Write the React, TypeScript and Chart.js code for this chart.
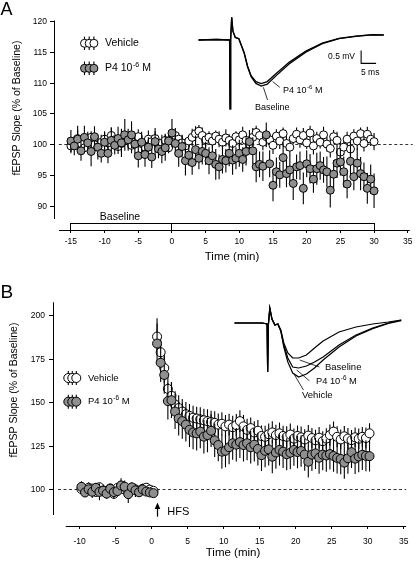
import React, { useEffect, useRef } from "react";
import { Chart, registerables } from "chart.js";
Chart.register(...registerables);

const FONT = '"Liberation Sans", Arial, Helvetica, sans-serif';
const GRAY = "#8f8f8f";

// ---------------- Panel A data ----------------
const ticksAX = [-15, -10, -5, 0, 5, 10, 15, 20, 25, 30, 35];
const ticksAY = [90, 95, 100, 105, 110, 115, 120];
const timeA = Array.from({ length: 91 }, (_, i) => -15 + i * 0.5); // sampling grid (min)
const vehicleA = [
  99.8, 100.5, 101.0, 100.2, 99.5, 100.8, 101.2, 100.0, 99.6, 100.4, 100.9,
  100.3, 101.5, 100.8, 99.7, 100.2, 101.0, 100.6, 99.9, 100.4, 101.3,
  100.2, 99.6, 100.9, 100.5, 101.0, 99.8, 100.3, 100.7, 99.5, 100.8,
  101.5, 100.9, 100.3, 99.8, 100.6, 101.2, 101.8, 102.2, 101.5, 100.8,
  101.2, 100.6, 101.4, 100.9, 100.4, 101.1, 100.7, 100.2, 101.3, 100.8,
  101.6, 100.7, 100.1, 101.2, 102.0, 101.5, 100.4, 101.3, 100.8, 99.9,
  101.4, 100.6, 101.8, 100.2, 99.6, 101.0, 101.7, 100.8, 101.5, 100.3,
  101.9, 99.8, 101.0, 100.4, 101.6, 100.1, 99.4, 101.3, 100.7, 98.8,
  99.6, 100.9, 99.3, 101.4, 100.6, 101.8, 100.2, 101.7, 100.9, 100.5,
];
const vehicleSemA = [
  1.2, 0.9, 1.4, 1.1, 0.8, 1.3, 1.0, 1.5, 0.9, 1.2, 1.1,
  1.0, 1.3, 0.9, 1.2, 1.4, 0.8, 1.1, 1.3, 1.0, 1.2,
  0.9, 1.1, 1.4, 1.0, 1.2, 0.8, 1.3, 1.1, 0.9, 1.5,
  1.2, 1.0, 1.3, 1.1, 0.9, 1.4, 1.2, 1.0, 1.3, 1.1,
  1.0, 1.2, 0.9, 1.3, 1.1, 1.4, 1.0, 1.2, 0.9, 1.1,
  1.3, 1.0, 1.2, 1.5, 1.1, 0.9, 1.3, 1.2, 1.0, 1.4,
  1.1, 1.3, 1.0, 1.2, 1.4, 0.9, 1.1, 1.3, 1.2, 1.0,
  1.2, 1.4, 1.1, 1.0, 1.3, 1.2, 1.5, 1.1, 1.4, 1.6,
  1.3, 1.2, 1.5, 1.1, 1.4, 1.0, 1.3, 1.2, 1.1, 1.4,
];
const p4A = [
  100.6, 99.8, 100.9, 99.0, 101.2, 100.3, 98.9, 101.3, 99.6, 98.6, 100.4,
  98.6, 100.7, 99.9, 101.0, 100.3, 101.6, 100.8, 101.6, 100.1, 98.2,
  100.4, 98.4, 99.6, 98.0, 100.5, 99.3, 98.9, 99.5, 100.6, 101.9,
  100.2, 98.6, 99.7, 97.4, 98.3, 97.1, 99.2, 97.8, 98.9, 98.6,
  97.4, 98.2, 96.8, 96.4, 97.6, 97.4, 98.6, 97.5, 97.8, 98.6,
  97.6, 98.9, 100.5, 99.0, 96.4, 96.8, 96.5, 101.6, 96.9, 93.4,
  95.6, 95.1, 97.9, 95.3, 95.9, 93.7, 96.4, 96.6, 92.9, 96.9,
  96.1, 94.4, 96.1, 96.6, 95.9, 95.6, 92.6, 95.2, 97.0, 97.2,
  95.6, 93.6, 97.3, 94.8, 97.0, 95.3, 94.8, 92.9, 94.4, 92.5,
];
const p4SemA = [
  1.8, 1.5, 2.2, 1.6, 1.9, 1.4, 2.4, 1.7, 2.0, 1.5, 1.8,
  1.6, 2.1, 1.5, 1.9, 2.3, 2.6, 1.8, 2.2, 1.7, 1.9,
  1.7, 2.0, 1.6, 1.8, 2.2, 1.5, 1.9, 2.1, 1.7, 2.3,
  1.9, 2.2, 1.8, 2.4, 1.7, 2.0, 2.3, 1.8, 2.1, 1.9,
  2.2, 1.8, 2.5, 2.0, 2.3, 1.9, 2.1, 2.4, 1.8, 2.2,
  2.0, 2.3, 1.9, 2.2, 2.5, 2.1, 2.4, 2.0, 2.2, 2.6,
  2.3, 2.1, 2.5, 2.2, 2.4, 2.7, 2.0, 2.3, 2.6, 2.2,
  2.4, 2.2, 2.6, 2.3, 2.1, 2.5, 2.8, 2.3, 2.4, 2.2,
  2.5, 2.3, 2.6, 2.2, 2.4, 2.7, 2.3, 2.5, 2.4, 2.8,
];
const baselineBarA = [-15, 0, 30]; // start, divider, end (min)

// inset traces, panel A (ms, mV)
const traceTimeA = [0, 6, 10.4, 10.55, 10.75, 11.1, 11.5, 12.3, 13.5, 15.3, 16.4, 17.6, 19.2, 21, 23, 25.9, 30.3, 35.9, 41.4, 47, 52.6, 58.1, 62];
const traceBaselineA = [0, 0.02, 0, -2.65, 0, 0.87, 0.35, 0.1, 0.05, -0.51, -1.03, -1.41, -1.67, -1.77, -1.7, -1.38, -0.92, -0.47, -0.14, 0.05, 0.14, 0.2, 0.19];
const traceP4A = [0, 0.02, 0, -2.65, 0, 0.87, 0.35, 0.1, 0.05, -0.5, -1.0, -1.37, -1.6, -1.68, -1.6, -1.3, -0.86, -0.43, -0.12, 0.06, 0.15, 0.21, 0.2];
const leaderP4AX = [24.8, 27.2];
const leaderP4AY = [-1.6, -1.82];
const leaderBaseAX = [21.7, 23.1];
const leaderBaseAY = [-1.82, -2.31];
const scaleBarAX = [54.4, 54.4, 59.4]; // 5 ms
const scaleBarAY = [-0.4, -0.9, -0.9]; // 0.5 mV

// ---------------- Panel B data ----------------
const ticksBX = [-10, -5, 0, 5, 10, 15, 20, 25, 30, 35];
const ticksBY = [100, 125, 150, 175, 200];
const timeBPre = Array.from({ length: 21 }, (_, i) => -9.75 + i * 0.5);
const timeBPost = Array.from({ length: 60 }, (_, i) => 0.75 + i * 0.5);
const vehicleBPre = [100.5, 99.2, 101.3, 100.8, 98.9, 101.6, 99.7, 98.4, 100.9, 97.8, 101.2, 102.3, 100.2, 99.1, 101.0, 100.4, 99.6, 100.7, 101.3, 100.2, 99.5];
const vehicleSemBPre = [2.5, 2.0, 3.1, 2.4, 2.8, 2.2, 3.4, 2.6, 2.1, 2.9, 2.4, 3.0, 2.2, 2.7, 2.5, 2.1, 2.4, 2.0, 2.6, 2.3, 2.1];
const p4BPre = [101.8, 98.6, 100.4, 99.0, 101.2, 98.9, 99.6, 97.9, 100.7, 98.8, 99.4, 102.6, 101.9, 97.6, 101.5, 99.8, 98.7, 100.3, 99.1, 98.6, 98.2];
const p4SemBPre = [3.2, 2.7, 2.4, 3.6, 2.9, 4.8, 2.5, 3.1, 2.8, 3.4, 2.6, 4.2, 3.5, 5.0, 3.0, 3.8, 2.7, 3.3, 2.5, 2.4, 2.2];
const vehicleBPost = [
  188, 179, 170, 158, 154, 149, 147, 145, 143.5, 142.5,
  141.5, 141, 140.5, 140, 139.5, 139, 138.5, 137.5, 138, 136.5,
  137.5, 136, 137.2, 139.5, 136.5, 134.5, 135.5, 133, 134, 131,
  130.5, 132, 133, 131.5, 132.5, 131, 130.5, 131.8, 129.5, 131,
  130.2, 129, 131.2, 129.8, 128.5, 130, 128, 129.5, 131.5, 133.5,
  130.5, 129, 130.8, 129.5, 128.6, 130.2, 129.4, 130.5, 129.8, 132.5,
];
const vehicleSemBPost = [
  10.6, 9.5, 8.8, 8.2, 7.9, 7.6, 7.4, 7.2, 7.0, 6.9,
  6.8, 6.7, 6.9, 6.6, 6.8, 6.5, 6.7, 6.4, 6.6, 6.5,
  6.3, 6.6, 6.4, 6.2, 6.5, 6.3, 6.1, 6.4, 6.2, 6.0,
  6.3, 6.1, 6.4, 6.0, 6.2, 5.9, 6.1, 6.3, 5.8, 6.0,
  6.2, 5.9, 6.1, 5.8, 6.0, 6.2, 5.7, 5.9, 6.1, 5.8,
  6.0, 5.7, 5.9, 6.1, 5.8, 5.6, 5.9, 5.7, 6.0, 5.8,
];
const p4BPost = [
  184, 173, 166, 151, 151.5, 145, 141, 139.5, 137.5, 134.5,
  133, 132.5, 133.5, 130.6, 131.5, 134, 128.5, 125.8, 122, 122.5,
  124.5, 126.8, 126, 127.5, 125.8, 126.8, 124.5, 126, 123.5, 120,
  122.5, 123.3, 119.1, 121.5, 123, 122, 120.5, 121.4, 123, 121.8,
  122.4, 120.3, 116.2, 120.3, 121, 118.5, 120.3, 119.8, 120.6, 119.5,
  118.4, 117.8, 115.7, 118.2, 121.7, 118, 119.2, 120.2, 119.6, 119.4,
];
const p4SemBPost = [
  11.5, 11.0, 10.8, 10.5, 10.2, 10.0, 9.8, 10.1, 9.7, 9.9,
  9.6, 9.8, 9.5, 9.7, 9.9, 9.4, 9.6, 9.3, 9.8, 9.5,
  9.7, 9.4, 9.6, 9.2, 9.5, 9.7, 9.3, 9.6, 9.4, 9.1,
  9.4, 9.2, 9.5, 9.3, 9.0, 9.4, 9.2, 9.5, 9.1, 9.3,
  9.0, 9.3, 9.1, 9.4, 8.9, 9.2, 9.0, 9.3, 8.8, 9.1,
  9.0, 8.7, 9.2, 8.9, 9.1, 8.8, 9.0, 8.7, 8.9, 8.8,
];
const hfsTime = 0.8;

// inset traces, panel B (ms, mV)
const traceTimeB = [0, 10.3, 12.1, 12.3, 12.6, 13.1, 13.9, 15.0, 16.1, 17.2, 18.3, 19.8, 21.6, 23.8, 26.7, 29.7, 32.9, 38.8, 45.1, 51.3, 57.1, 61.9];
const traceBaselineB = [0, 0, -0.05, -2.45, -0.05, 0.75, 0.2, -0.1, -0.05, -0.35, -1.0, -1.5, -1.75, -1.75, -1.6, -1.25, -0.9, -0.45, -0.2, -0.05, 0.05, 0.15];
const traceP4B = [0, 0, -0.05, -2.45, -0.05, 0.75, 0.2, -0.1, -0.05, -0.4, -1.1, -1.75, -2.2, -2.25, -2.15, -1.95, -1.7, -1.1, -0.6, -0.25, 0, 0.15];
const traceVehicleB = [0, 0, -0.05, -2.45, -0.05, 0.75, 0.2, -0.1, -0.05, -0.42, -1.2, -1.95, -2.5, -2.7, -2.55, -2.25, -1.85, -1.2, -0.65, -0.28, -0.02, 0.12];
const leaderBaseBX = [24.2, 31.5];
const leaderBaseBY = [-1.85, -2.2];
const leaderP4BX = [23.1, 27.8];
const leaderP4BY = [-2.35, -2.89];
const leaderVehBX = [22.3, 25.6];
const leaderVehBY = [-2.6, -3.35];

// ---------------- helpers ----------------
const pts = (xs: number[], ys: number[]) => xs.map((x, i) => ({ x, y: ys[i] }));

function scatterDs(label: string, xs: number[], ys: number[], sem: number[], fill: string, r: number, order: number) {
  return {
    type: "line",
    label,
    data: pts(xs, ys),
    sem,
    showLine: false,
    pointRadius: r,
    pointHoverRadius: r,
    pointBackgroundColor: fill,
    pointBorderColor: "#000",
    pointBorderWidth: 1,
    borderColor: "#000",
    backgroundColor: fill,
    order,
    xAxisID: "x",
    yAxisID: "y",
  };
}

function traceDs(xs: number[], ys: number[], width: number) {
  return {
    type: "line",
    data: pts(xs, ys),
    borderColor: "#000",
    borderWidth: width,
    pointRadius: 0,
    pointHoverRadius: 0,
    tension: 0,
    fill: false,
    order: 5,
    xAxisID: "ix",
    yAxisID: "iy",
  };
}

function mainX(min: number, max: number, ticks: number[], height: number, pad: number) {
  return {
    type: "linear",
    position: "bottom",
    min,
    max,
    afterBuildTicks: (s: any) => {
      s.ticks = ticks.map((v) => ({ value: v }));
    },
    afterFit: (s: any) => {
      s.height = height;
    },
    grid: { display: true, drawOnChartArea: false, drawTicks: true, tickLength: 3, color: "#000", lineWidth: 1 },
    border: { display: false },
    ticks: {
      font: { family: FONT, size: 8.5 },
      color: "#000",
      padding: pad,
      maxRotation: 0,
      autoSkip: false,
      callback: (v: any) => String(v),
    },
  };
}

function mainY(min: number, max: number, ticks: number[], width: number, pad: number) {
  return {
    type: "linear",
    position: "left",
    min,
    max,
    afterBuildTicks: (s: any) => {
      s.ticks = ticks.map((v) => ({ value: v }));
    },
    afterFit: (s: any) => {
      s.width = width;
    },
    grid: { display: true, drawOnChartArea: false, drawTicks: true, tickLength: 4, color: "#000", lineWidth: 1 },
    border: { display: false },
    ticks: {
      font: { family: FONT, size: 8.5 },
      color: "#000",
      padding: pad,
      autoSkip: false,
      callback: (v: any) => String(v),
    },
  };
}

function drawText(ctx: CanvasRenderingContext2D, s: string, x: number, y: number, size: number, align: CanvasTextAlign = "left", baseline: CanvasTextBaseline = "middle") {
  ctx.font = `${size}px ${FONT}`;
  ctx.textAlign = align;
  ctx.textBaseline = baseline;
  ctx.fillStyle = "#000";
  ctx.fillText(s, x, y);
}

function drawP4Label(ctx: CanvasRenderingContext2D, x: number, y: number, size: number) {
  ctx.textAlign = "left";
  ctx.textBaseline = "middle";
  ctx.fillStyle = "#000";
  ctx.font = `${size}px ${FONT}`;
  const a = "P4 10";
  ctx.fillText(a, x, y);
  let w = ctx.measureText(a).width + 0.5;
  const ss = size * 0.68;
  ctx.font = `${ss}px ${FONT}`;
  ctx.fillText("-6", x + w, y - size * 0.33);
  w += ctx.measureText("-6").width;
  ctx.font = `${size}px ${FONT}`;
  ctx.fillText(" M", x + w, y);
}

function drawVTitle(ctx: CanvasRenderingContext2D, s: string, x: number, y: number, size: number) {
  ctx.save();
  ctx.translate(x, y);
  ctx.rotate(-Math.PI / 2);
  drawText(ctx, s, 0, 0, size, "center", "middle");
  ctx.restore();
}

function drawLegendSymbol(ctx: CanvasRenderingContext2D, cx: number, cy: number, r: number, step: number, fill: string, half: number) {
  for (let k = 0; k < 3; k++) {
    const x = cx + k * step;
    ctx.beginPath();
    ctx.moveTo(x, cy - half);
    ctx.lineTo(x, cy + half);
    ctx.strokeStyle = "#000";
    ctx.lineWidth = 1.1;
    ctx.stroke();
    ctx.beginPath();
    ctx.arc(x, cy, r, 0, Math.PI * 2);
    ctx.fillStyle = fill;
    ctx.fill();
    ctx.lineWidth = 1;
    ctx.stroke();
  }
}

const align = (p: number) => Math.round(p - 0.5) + 0.5;

const errorBars = {
  id: "errorBars",
  beforeDatasetDraw(chart: any, args: any) {
    const ds = chart.data.datasets[args.index];
    if (!ds.sem) return;
    const meta = args.meta;
    const yScale = chart.scales[meta.yAxisID];
    const ctx = chart.ctx;
    ctx.save();
    ctx.strokeStyle = "#000";
    ctx.lineWidth = 1.1;
    ctx.beginPath();
    meta.data.forEach((el: any, i: number) => {
      const v = ds.data[i].y;
      const s = ds.sem[i];
      ctx.moveTo(el.x, yScale.getPixelForValue(v - s));
      ctx.lineTo(el.x, yScale.getPixelForValue(v + s));
    });
    ctx.stroke();
    ctx.restore();
  },
};

const baseOptions = {
  animation: false,
  responsive: false,
  devicePixelRatio: 1,
  events: [],
  plugins: { legend: { display: false }, tooltip: { enabled: false } },
};

// ---------------- Panel A ----------------
function configA(): any {
  const decorA = {
    id: "decorA",
    beforeDatasetsDraw(chart: any) {
      const { ctx, chartArea: ca } = chart;
      const x = chart.scales.x;
      const y = chart.scales.y;
      ctx.save();
      ctx.strokeStyle = "#000";
      ctx.lineWidth = 1;
      const axX = align(ca.left);
      const axY = align(ca.bottom);
      ctx.beginPath();
      ctx.moveTo(axX, y.getPixelForValue(120.2));
      ctx.lineTo(axX, y.getPixelForValue(87.92));
      ctx.moveTo(x.getPixelForValue(-16.77), axY);
      ctx.lineTo(ca.right, axY);
      ctx.stroke();
      // dashed 100% line
      ctx.setLineDash([3, 2.5]);
      ctx.lineWidth = 0.8;
      const y100 = align(y.getPixelForValue(100));
      ctx.beginPath();
      ctx.moveTo(x.getPixelForValue(-16.8), y100);
      ctx.lineTo(ca.right + 3, y100);
      ctx.stroke();
      ctx.setLineDash([]);
      // baseline bar
      ctx.lineWidth = 1;
      const top = align(y.getPixelForValue(87.2));
      const xl = align(x.getPixelForValue(baselineBarA[0]));
      const xm = align(x.getPixelForValue(baselineBarA[1]));
      const xr = align(x.getPixelForValue(baselineBarA[2]));
      ctx.strokeRect(xl, top, xr - xl, axY - top);
      ctx.beginPath();
      ctx.moveTo(xm, top);
      ctx.lineTo(xm, axY);
      ctx.stroke();
      ctx.restore();
    },
    afterDatasetsDraw(chart: any) {
      const ctx = chart.ctx;
      ctx.save();
      drawText(ctx, "A", 0.5, 15, 18, "left", "alphabetic");
      drawVTitle(ctx, "fEPSP Slope (% of Baseline)", 17, 108, 10.5);
      drawText(ctx, "Time (min)", 232, 257, 11.5, "center");
      drawText(ctx, "Baseline", 120, 216.7, 10.5, "center");
      drawLegendSymbol(ctx, 84.5, 43.3, 4, 4.7, "#fff", 6.7);
      drawText(ctx, "Vehicle", 105, 43.3, 10.5);
      drawLegendSymbol(ctx, 84.5, 68.3, 4, 4.7, GRAY, 6.7);
      drawP4Label(ctx, 105, 68.3, 10.5);
      // inset labels
      drawP4Label(ctx, 283, 90.7, 9);
      drawText(ctx, "Baseline", 255, 107.3, 9);
      drawText(ctx, "0.5 mV", 355, 56.7, 8.5, "right");
      drawText(ctx, "5 ms", 361, 72.7, 8.5);
      ctx.restore();
    },
  };
  return {
    type: "line",
    data: {
      datasets: [
        scatterDs("Vehicle", timeA, vehicleA, vehicleSemA, "#fff", 4, 2),
        scatterDs("P4 10-6 M", timeA, p4A, p4SemA, GRAY, 4, 1),
        traceDs(traceTimeA, traceBaselineA, 1.3),
        traceDs(traceTimeA, traceP4A, 1.3),
        traceDs(leaderP4AX, leaderP4AY, 0.8),
        traceDs(leaderBaseAX, leaderBaseAY, 0.8),
        traceDs(scaleBarAX, scaleBarAY, 1.1),
      ],
    },
    options: {
      ...baseOptions,
      layout: { padding: { left: 0, top: 16, right: 5, bottom: 0 } },
      scales: {
        x: mainX(-17.51, 35.3, ticksAX, 40, 3.5),
        y: mainY(86.13, 120.93, ticksAY, 54, 3),
        ix: { type: "linear", axis: "x", position: "bottom", display: false, min: -48.333, max: 70.667 },
        iy: { type: "linear", axis: "y", position: "left", display: false, min: -7.308, max: 0.923 },
      },
    },
    plugins: [errorBars, decorA],
  };
}

// ---------------- Panel B ----------------
function configB(): any {
  const decorB = {
    id: "decorB",
    beforeDatasetsDraw(chart: any) {
      const { ctx, chartArea: ca } = chart;
      const x = chart.scales.x;
      const y = chart.scales.y;
      ctx.save();
      ctx.strokeStyle = "#000";
      ctx.lineWidth = 1;
      const axX = align(ca.left);
      const axY = align(ca.bottom);
      ctx.beginPath();
      ctx.moveTo(axX, y.getPixelForValue(207.7));
      ctx.lineTo(axX, y.getPixelForValue(85.66));
      ctx.moveTo(x.getPixelForValue(-11.92), axY);
      ctx.lineTo(ca.right, axY);
      ctx.stroke();
      ctx.setLineDash([3, 2.5]);
      ctx.lineWidth = 0.8;
      const y100 = align(y.getPixelForValue(100));
      ctx.beginPath();
      ctx.moveTo(x.getPixelForValue(-13.0), y100);
      ctx.lineTo(ca.right, y100);
      ctx.stroke();
      ctx.setLineDash([]);
      ctx.restore();
    },
    afterDatasetsDraw(chart: any) {
      const ctx = chart.ctx;
      const x = chart.scales.x;
      ctx.save();
      drawText(ctx, "B", 0.5, 28, 19, "left", "alphabetic");
      drawVTitle(ctx, "fEPSP Slope (% of Baseline)", 14.5, 120, 10.5);
      drawText(ctx, "Time (min)", 233, 283, 11.5, "center");
      drawLegendSymbol(ctx, 68.3, 108, 4.5, 4, "#fff", 7);
      drawText(ctx, "Vehicle", 88, 108, 9.5);
      drawLegendSymbol(ctx, 68.3, 131.7, 4.5, 4, GRAY, 7);
      drawP4Label(ctx, 88, 131.7, 9.5);
      // HFS arrow
      const hx = align(x.getPixelForValue(hfsTime));
      ctx.strokeStyle = "#000";
      ctx.fillStyle = "#000";
      ctx.lineWidth = 1.2;
      ctx.beginPath();
      ctx.moveTo(hx, 246.7);
      ctx.lineTo(hx, 237);
      ctx.stroke();
      ctx.beginPath();
      ctx.moveTo(hx - 2.8, 239);
      ctx.lineTo(hx + 2.8, 239);
      ctx.lineTo(hx, 232.5);
      ctx.closePath();
      ctx.fill();
      drawText(ctx, "HFS", 167.3, 241.7, 11);
      // inset labels
      drawText(ctx, "Baseline", 325, 97, 9.5);
      drawP4Label(ctx, 316, 111, 9.3);
      drawText(ctx, "Vehicle", 302, 125, 9.5);
      ctx.restore();
    },
  };
  return {
    type: "line",
    data: {
      datasets: [
        scatterDs("Vehicle", [...timeBPre, ...timeBPost], [...vehicleBPre, ...vehicleBPost], [...vehicleSemBPre, ...vehicleSemBPost], "#fff", 4.5, 2),
        scatterDs("P4 10-6 M", [...timeBPre, ...timeBPost], [...p4BPre, ...p4BPost], [...p4SemBPre, ...p4SemBPost], GRAY, 4.5, 1),
        traceDs(traceTimeB, traceBaselineB, 1.2),
        traceDs(traceTimeB, traceP4B, 1.2),
        traceDs(traceTimeB, traceVehicleB, 1.2),
        traceDs(leaderBaseBX, leaderBaseBY, 0.8),
        traceDs(leaderP4BX, leaderP4BY, 0.8),
        traceDs(leaderVehBX, leaderVehBY, 0.8),
      ],
    },
    options: {
      ...baseOptions,
      layout: { padding: { left: 0, top: 30, right: 5, bottom: 0 } },
      scales: {
        x: mainX(-13.7, 35.34, ticksBX, 35, 7.5),
        y: mainY(79.34, 209.0, ticksBY, 53, 4),
        ix: { type: "linear", axis: "x", position: "bottom", display: false, min: -67.4, max: 63.74 },
        iy: { type: "linear", axis: "y", position: "left", display: false, min: -10.15, max: 1.15 },
      },
    },
    plugins: [errorBars, decorB],
  };
}

export default function App() {
  const refA = useRef<HTMLCanvasElement>(null);
  const refB = useRef<HTMLCanvasElement>(null);
  useEffect(() => {
    const a = new Chart(refA.current as HTMLCanvasElement, configA());
    const b = new Chart(refB.current as HTMLCanvasElement, configB());
    return () => {
      a.destroy();
      b.destroy();
    };
  }, []);
  return (
    <div style={{ position: "absolute", left: 0, top: 0, width: 416, height: 561, background: "#fff" }}>
      <canvas ref={refA} width={416} height={270} style={{ position: "absolute", left: 0, top: 0, width: 416, height: 270 }} />
      <canvas ref={refB} width={416} height={291} style={{ position: "absolute", left: 0, top: 270, width: 416, height: 291 }} />
    </div>
  );
}
